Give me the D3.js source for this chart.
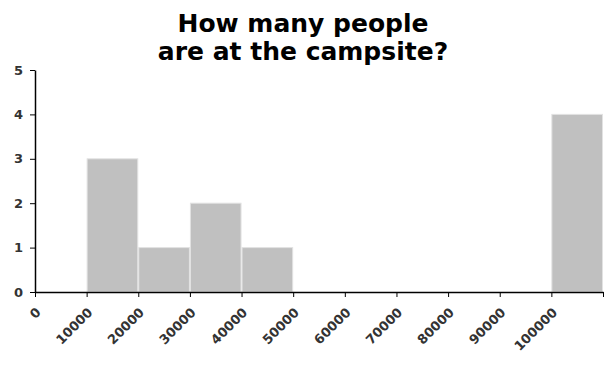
<!DOCTYPE html>
<html>
<head>
<meta charset="utf-8">
<script src="https://cdn.jsdelivr.net/npm/d3@7"></script>
<style>
  body { margin: 0; background: #fff; }
  svg text { font-family: "DejaVu Sans", Verdana, sans-serif; }
</style>
</head>
<body>
<svg id="chart" width="614" height="372"></svg>
<script>
// histogram bins: [start, end) and count
const binStarts = [10000, 20000, 30000, 40000, 100000];
const binEnds = [20000, 30000, 40000, 50000, 110000];
const binCounts = [3, 1, 2, 1, 4];
const xTicks = [0, 10000, 20000, 30000, 40000, 50000, 60000, 70000, 80000, 90000, 100000];
const yTicks = [0, 1, 2, 3, 4, 5];
const titleLines = ['How many people', 'are at the campsite?'];

const svg = d3.select('#chart');
const margin = { left: 35, right: 11, top: 70, bottom: 80 };
const W = 614, H = 372;

const x = d3.scaleLinear().domain([0, 110000]).range([margin.left, W - margin.right]);
const y = d3.scaleLinear().domain([0, 5]).range([H - margin.bottom, margin.top]);

// title
svg.append('text')
  .attr('text-anchor', 'middle')
  .attr('font-size', '25px')
  .attr('font-weight', 'bold')
  .attr('fill', '#000')
  .selectAll('tspan')
  .data(titleLines)
  .enter().append('tspan')
  .attr('x', 303)
  .attr('y', (d, i) => 32 + i * 28)
  .text(d => d);

// bars
svg.append('g').selectAll('rect')
  .data(binCounts)
  .enter().append('rect')
  .attr('x', (d, i) => x(binStarts[i]) + 0.5)
  .attr('y', d => y(d))
  .attr('width', (d, i) => x(binEnds[i]) - x(binStarts[i]) - 1)
  .attr('height', d => y(0) - y(d))
  .attr('fill', '#c0c0c0')
  .attr('stroke', '#e2e2e2')
  .attr('stroke-width', 1);

// x axis (extra tick at the right end, no label)
const xAxis = svg.append('g')
  .attr('transform', `translate(0,${y(0)})`)
  .call(d3.axisBottom(x).tickValues(xTicks.concat([110000])).tickFormat(d => d === 110000 ? '' : d).tickSize(5).tickSizeOuter(0));
xAxis.select('.domain').attr('stroke', '#000').attr('stroke-width', 1.5);
xAxis.selectAll('.tick line').attr('stroke', '#000');
xAxis.selectAll('text')
  .attr('font-size', '13px')
  .attr('font-weight', 'bold')
  .attr('fill', '#333')
  .attr('text-anchor', 'end')
  .attr('x', 0)
  .attr('y', 0)
  .attr('dy', '0.35em')
  .attr('transform', 'translate(3,18) rotate(-45)');

// y axis
const yAxis = svg.append('g')
  .attr('transform', `translate(${x(0)},0)`)
  .call(d3.axisLeft(y).tickValues(yTicks).tickFormat(d3.format('d')).tickSize(5).tickSizeOuter(0));
yAxis.select('.domain').attr('stroke', '#000').attr('stroke-width', 1.5);
yAxis.selectAll('.tick line').attr('stroke', '#000');
yAxis.selectAll('text')
  .attr('font-size', '13px')
  .attr('font-weight', 'bold')
  .attr('fill', '#333')
  .attr('x', -12);
</script>
</body>
</html>
